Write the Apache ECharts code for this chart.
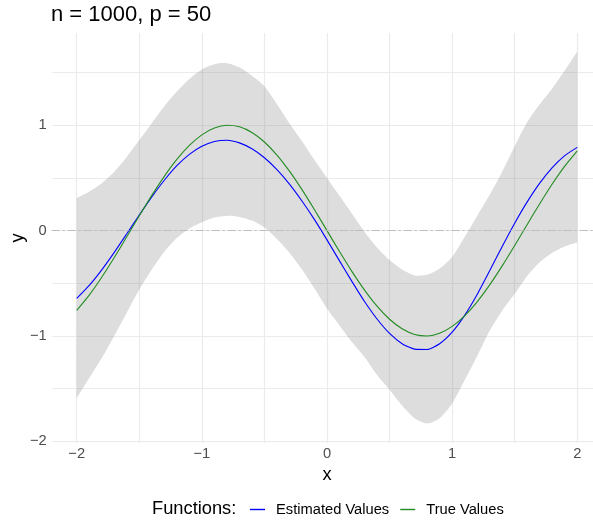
<!DOCTYPE html>
<html>
<head>
<meta charset="utf-8">
<script src="https://cdn.jsdelivr.net/npm/echarts@6/dist/echarts.min.js"></script>
<style>
html,body{margin:0;padding:0;background:#fff}
#chart{width:593px;height:521px}
</style>
</head>
<body>
<div id="chart"></div>
<script>
// values
var xs = [-2.0,-1.9,-1.8,-1.7,-1.6,-1.5,-1.4,-1.3,-1.2,-1.1,-1.0,-0.9,-0.8,-0.7,-0.6,-0.5,-0.4,-0.3,-0.2,-0.1,
          0.0,0.1,0.2,0.3,0.4,0.5,0.6,0.7,0.8,0.9,1.0,1.1,1.2,1.3,1.4,1.5,1.6,1.7,1.8,1.9,2.0];
var trueVals = [-0.7568,-0.6119,-0.4425,-0.2555,-0.0584,0.1411,0.3350,0.5155,0.6755,0.8085,0.9093,0.9738,0.9996,0.9854,0.9320,0.8415,0.7174,0.5646,0.3894,0.1987,
                0.0,-0.1987,-0.3894,-0.5646,-0.7174,-0.8415,-0.9320,-0.9854,-0.9996,-0.9738,-0.9093,-0.8085,-0.6755,-0.5155,-0.3350,-0.1411,0.0584,0.2555,0.4425,0.6119,0.7568];
var estVals = [-0.644,-0.520,-0.372,-0.206,-0.030,0.148,0.320,0.478,0.616,0.724,0.801,0.846,0.858,0.833,0.777,0.692,0.579,0.442,0.281,0.104,
               -0.088,-0.287,-0.484,-0.673,-0.839,-0.976,-1.073,-1.125,-1.128,-1.074,-0.964,-0.804,-0.606,-0.381,-0.150,0.071,0.273,0.451,0.598,0.712,0.790];
var bandLow = [-1.59,-1.40,-1.21,-1.00,-0.78,-0.56,-0.37,-0.20,-0.07,0.02,0.08,0.125,0.14,0.13,0.095,0.03,-0.08,-0.21,-0.37,-0.55,
               -0.74,-0.90,-1.06,-1.20,-1.37,-1.51,-1.66,-1.78,-1.83,-1.78,-1.64,-1.42,-1.19,-0.95,-0.76,-0.60,-0.43,-0.30,-0.21,-0.15,-0.11];
var bandHigh = [0.31,0.37,0.45,0.56,0.70,0.86,1.02,1.18,1.32,1.44,1.53,1.58,1.59,1.55,1.47,1.37,1.20,1.02,0.85,0.67,
                0.50,0.33,0.16,-0.01,-0.16,-0.28,-0.37,-0.425,-0.42,-0.36,-0.25,-0.06,0.14,0.34,0.56,0.80,1.03,1.20,1.35,1.52,1.70];
var xTicks = [-2,-1,0,1,2];
var yTicks = [-2,-1,0,1];

var FONT = '"Liberation Sans", Arial, Helvetica, sans-serif';

function pairs(vals) {
    return xs.map(function(x, i) { return [x, vals[i]]; });
}
function tickFmt(list) {
    return function(v) {
        if (list.indexOf(v) < 0) return '';
        return v < 0 ? '\u2212' + (-v) : String(v);
    };
}

var bandData = xs.map(function(x, i) { return [x, bandLow[i], bandHigh[i]]; });

// whole ribbon is drawn once, as one smoothed polygon, from the first item.
// the four corner points are doubled so the two ends stay square
function renderBand(params, api) {
    if (params.dataIndex !== 0) return;
    var pts = [], i, n = bandData.length;
    var up = function(k) { return api.coord([bandData[k][0], bandData[k][2]]); };
    var lo = function(k) { return api.coord([bandData[k][0], bandData[k][1]]); };
    pts.push(up(0));
    for (i = 0; i < n; i++) pts.push(up(i));
    pts.push(up(n - 1));
    pts.push(lo(n - 1));
    for (i = n - 1; i >= 0; i--) pts.push(lo(i));
    pts.push(lo(0));
    return {
        type: 'polygon',
        shape: {points: pts, smooth: 0.25},
        style: {fill: 'rgba(128,128,128,0.27)'},
        silent: true
    };
}

var gridLine = {show: true, lineStyle: {color: '#EBEBEB', width: 1.2}};

var chart = echarts.init(document.getElementById('chart'));
chart.setOption({
    animation: false,
    backgroundColor: '#fff',
    title: {
        text: 'n = 1000, p = 50',
        left: 51, top: 4, padding: 0,
        textStyle: {fontFamily: FONT, fontSize: 22, fontWeight: 'normal', color: '#000'}
    },
    graphic: [{
        type: 'text', left: 152, top: 500,
        style: {text: 'Functions:', font: '18.3px ' + FONT, fill: '#000'}
    }],
    legend: {
        left: 250, top: 502, padding: 0,
        itemWidth: 15, itemHeight: 1.4, itemGap: 11,
        icon: 'rect',
        textStyle: {fontFamily: FONT, fontSize: 14.7, color: '#000', padding: [0, 0, 0, 6]},
        data: ['Estimated Values', 'True Values']
    },
    grid: [
        {left: 51.7, top: 33, width: 550.6, height: 410, outerBoundsMode: 'none', containLabel: false},
        {left: 76.7, top: 33, width: 500.6, height: 410, outerBoundsMode: 'none', containLabel: false},
        {left: 51.7, top: 72.6, width: 550.6, height: 368.7, outerBoundsMode: 'none', containLabel: false}
    ],
    xAxis: [
        {gridIndex: 0, type: 'value', min: -2.2, max: 2.2, show: false},
        {gridIndex: 1, type: 'value', min: -2, max: 2, interval: 0.5,
         axisLine: {show: false}, axisTick: {show: false}, splitLine: gridLine,
         axisLabel: {formatter: tickFmt(xTicks), color: '#4D4D4D', fontSize: 14.7, fontFamily: FONT, margin: 3},
         name: 'x', nameLocation: 'middle', nameGap: 19,
         nameTextStyle: {fontFamily: FONT, fontSize: 18.3, color: '#000'}},
        {gridIndex: 2, type: 'value', min: 0, max: 1, show: false}
    ],
    yAxis: [
        {gridIndex: 0, type: 'value', min: -2.016, max: 1.876,
         axisLine: {show: false}, axisTick: {show: false}, axisLabel: {show: false}, splitLine: {show: false},
         name: 'y', nameLocation: 'middle', nameGap: 25,
         nameTextStyle: {fontFamily: FONT, fontSize: 18.3, color: '#000'}},
        {gridIndex: 1, type: 'value', min: 0, max: 1, show: false},
        {gridIndex: 2, type: 'value', min: -2, max: 1.5, interval: 0.5,
         axisLine: {show: false}, axisTick: {show: false}, splitLine: gridLine,
         axisLabel: {formatter: tickFmt(yTicks), color: '#4D4D4D', fontSize: 14.7, fontFamily: FONT, margin: 5}}
    ],
    series: [
        {name: 'band', type: 'custom', xAxisIndex: 0, yAxisIndex: 0, data: bandData,
         encode: {x: 0, y: [1, 2]}, renderItem: renderBand, silent: true, z: 1},
        {name: 'zero', type: 'line', xAxisIndex: 0, yAxisIndex: 0, data: [], silent: true, z: 2,
         markLine: {silent: true, symbol: 'none', label: {show: false},
                    lineStyle: {color: '#BDBDBD', width: 1, type: [8, 3, 2, 3]},
                    data: [{yAxis: 0}]}},
        {name: 'Estimated Values', type: 'line', xAxisIndex: 0, yAxisIndex: 0, data: pairs(estVals), z: 3,
         symbol: 'none', smooth: 0.2, color: '#0000FF', lineStyle: {width: 1.1, color: '#0000FF'}},
        {name: 'True Values', type: 'line', xAxisIndex: 0, yAxisIndex: 0, data: pairs(trueVals), z: 3,
         symbol: 'none', smooth: 0.2, color: '#228B22', lineStyle: {width: 1.1, color: '#228B22'}}
    ]
});
</script>
</body>
</html>
